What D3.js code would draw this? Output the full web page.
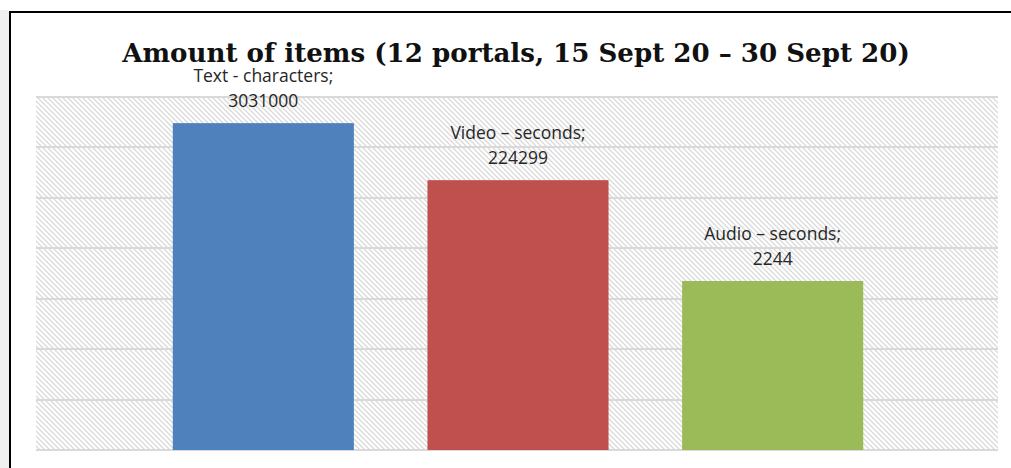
<!DOCTYPE html>
<html>
<head>
<meta charset="utf-8">
<script src="https://cdn.jsdelivr.net/npm/d3@7"></script>
<style>
  html, body { margin: 0; padding: 0; background: #ffffff; }
  svg { display: block; }
</style>
</head>
<body>
<svg id="chart" width="1011" height="468"></svg>
<script>
const categories = ["Text - characters;", "Video \u2013 seconds;", "Audio \u2013 seconds;"];
const values = [3031000, 224299, 2244];
const colors = ["#4f81bd", "#c0504d", "#9bbb59"];
const gridTicks = [1, 10, 100, 1000, 10000, 100000, 1000000, 10000000];
const title = "Amount of items (12 portals, 15 Sept 20 \u2013 30 Sept 20)";

const svg = d3.select("#chart");
const W = 1011, H = 468;

// page background strip and border
svg.append("rect").attr("x", 0).attr("y", 0).attr("width", W).attr("height", H).attr("fill", "#ffffff");
svg.append("rect").attr("x", 0).attr("y", 10).attr("width", 9).attr("height", H - 10).attr("fill", "#f0f0f0");
svg.append("line").attr("x1", 10).attr("x2", W).attr("y1", 12).attr("y2", 12)
  .attr("stroke", "#000").attr("stroke-width", 2);
svg.append("line").attr("x1", 10).attr("x2", 10).attr("y1", 11).attr("y2", H)
  .attr("stroke", "#000").attr("stroke-width", 2);

const plot = { left: 36, right: 998, top: 97, bottom: 450 };

// hatch pattern
const defs = svg.append("defs");
const pat = defs.append("pattern").attr("id", "hatch").attr("patternUnits", "userSpaceOnUse")
  .attr("width", 5).attr("height", 5);
pat.append("rect").attr("width", 5).attr("height", 5).attr("fill", "#ffffff");
pat.append("path").attr("d", "M-1,-1 L6,6 M-1,4 L1,6 M4,-1 L6,1")
  .attr("stroke", "#dadada").attr("stroke-width", 1.3);

svg.append("rect").attr("x", plot.left).attr("y", plot.top)
  .attr("width", plot.right - plot.left).attr("height", plot.bottom - plot.top)
  .attr("fill", "url(#hatch)");

const y = d3.scaleLog().domain([1, 1e7]).range([plot.bottom, plot.top]);
const x = d3.scaleBand().domain(categories).range([136, 900])
  .paddingInner(0.289).paddingOuter(0.1445);

// gridlines
svg.append("g").selectAll("line").data(gridTicks).join("line")
  .attr("x1", plot.left).attr("x2", plot.right)
  .attr("y1", d => Math.round(y(d))).attr("y2", d => Math.round(y(d)))
  .attr("stroke", "#d9d9d9").attr("stroke-width", 2);

// bars
svg.append("g").selectAll("rect").data(values).join("rect")
  .attr("x", (d, i) => x(categories[i]))
  .attr("y", d => y(d))
  .attr("width", x.bandwidth())
  .attr("height", d => plot.bottom - y(d))
  .attr("fill", (d, i) => colors[i]);

// labels
const lab = svg.append("g").attr("font-family", "'Open Sans', 'Liberation Sans', sans-serif")
  .attr("font-size", 17.5).attr("fill", "#262626").attr("text-anchor", "middle");
values.forEach((v, i) => {
  const cx = x(categories[i]) + x.bandwidth() / 2;
  lab.append("text").attr("x", cx).attr("y", y(v) - 41).text(categories[i]);
  lab.append("text").attr("x", cx).attr("y", y(v) - 16).text(String(v));
});

// title
const t = svg.append("text").attr("x", 516).attr("y", 62)
  .attr("text-anchor", "middle")
  .attr("font-family", "'DejaVu Serif', 'Liberation Serif', serif")
  .attr("font-weight", "bold").attr("font-size", 26).attr("fill", "#111")
  .text(title);
const len = t.node().getComputedTextLength();
t.attr("font-size", 26 * 788 / len);
</script>
</body>
</html>
